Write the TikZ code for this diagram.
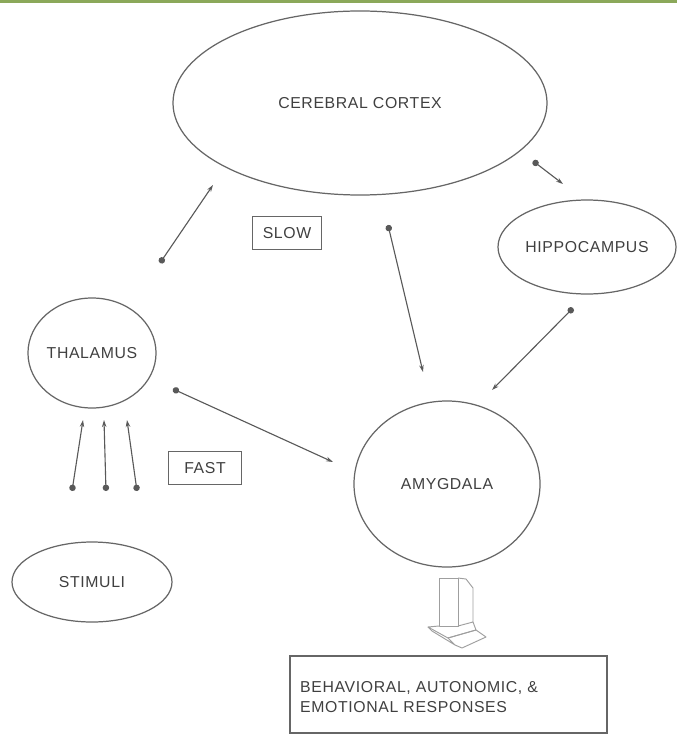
\documentclass[tikz,border=0pt]{standalone}
\usepackage{fontspec}
\newfontfamily\lbl[LetterSpace=4]{Liberation Sans}
\usetikzlibrary{shapes.geometric,arrows.meta}
\definecolor{barGreen}{HTML}{8BA85A}
\definecolor{lineGray}{HTML}{666666}
\definecolor{textGray}{HTML}{404040}
\begin{document}
\begin{tikzpicture}[x=0.03cm,y=-0.03cm,
  txt/.style={font=\lbl\fontsize{13.5}{16.5}\selectfont,text=textGray},
  region/.style={ellipse,draw=lineGray,line width=1.05pt,inner sep=0pt,txt},
  tag/.style={rectangle,draw=lineGray,line width=0.9pt,inner sep=0pt,txt},
  link/.style={draw=black!65,line width=0.95pt,
    {Circle[length=5.5pt]}-{Stealth[length=6pt,width=3.8pt]}},
  blockarrow/.style={draw=gray!75,line width=0.8pt,line join=round}
]
\useasboundingbox (0,0) rectangle (677,736);
\fill[white] (0,0) rectangle (677,736);
\fill[barGreen] (0,0) rectangle (677,3.5);

% brain regions
\node[region,minimum width=11.22cm,minimum height=5.52cm] (cortex) at (360,103) {CEREBRAL CORTEX};
\node[region,minimum width=5.34cm,minimum height=2.82cm] (hippo) at (587,247) {HIPPOCAMPUS};
\node[region,minimum width=3.78cm,minimum height=3.30cm] (thal) at (92,353) {THALAMUS};
\node[region,minimum width=4.80cm,minimum height=2.40cm] (stim) at (92,582) {STIMULI};
\node[region,minimum width=5.58cm,minimum height=4.98cm] (amyg) at (447,484) {AMYGDALA};

% pathway labels
\node[tag,minimum width=2.07cm,minimum height=0.99cm] (slow) at (287,233) {SLOW};
\node[tag,minimum width=2.19cm,minimum height=0.99cm] (fast) at (205,468) {FAST};

% output box
\node[tag,minimum width=9.51cm,minimum height=2.31cm] (resp) at (448.5,694.5) {};
\node[txt,anchor=west,align=left,inner sep=0pt] (resptext) at (300,697)
  {BEHAVIORAL, AUTONOMIC, \&\\EMOTIONAL RESPONSES};

% connector end points
\coordinate (tcA) at (160,263);  \coordinate (tcB) at (213,185);
\coordinate (caA) at (388,225);  \coordinate (caB) at (423,372);
\coordinate (chA) at (533,161);  \coordinate (chB) at (563,184);
\coordinate (haA) at (573,308);  \coordinate (haB) at (492,390);
\coordinate (taA) at (173,389);  \coordinate (taB) at (333,462);
\coordinate (s1A) at (72,491);   \coordinate (s1B) at (83,420);
\coordinate (s2A) at (106,491);  \coordinate (s2B) at (104,420);
\coordinate (s3A) at (137,491);  \coordinate (s3B) at (127,420);

% connectors
\draw[link] (tcA) -- (tcB);
\draw[link] (caA) -- (caB);
\draw[link] (chA) -- (chB);
\draw[link] (haA) -- (haB);
\draw[link] (taA) -- (taB);
\draw[link] (s1A) -- (s1B);
\draw[link] (s2A) -- (s2B);
\draw[link] (s3A) -- (s3B);

% hollow 3-D arrow from amygdala to responses
\draw[blockarrow] (439,578) rectangle (458,626);
\draw[blockarrow] (458,578) -- (466,579) -- (473,588) -- (473,622) -- (458,626);
\draw[blockarrow] (439,626) -- (428,627) -- (448,638) -- (476,630) -- (473,622);
\draw[blockarrow] (428,627) -- (432,631) -- (455,645) -- (448,638);
\draw[blockarrow] (448,638) -- (476,630) -- (486,637) -- (462,648) -- (455,645);
\end{tikzpicture}
\end{document}
